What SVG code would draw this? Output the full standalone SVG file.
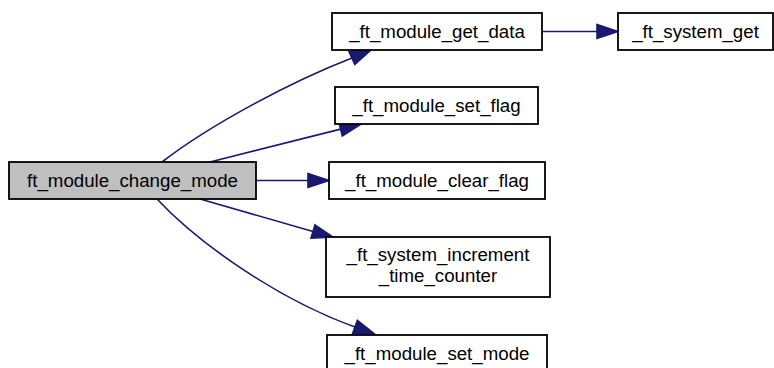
<svg xmlns="http://www.w3.org/2000/svg" width="774" height="368" viewBox="0 0 774 368">
<style>
.box{fill:#ffffff;stroke:#000000;stroke-width:1.8}
.main{fill:#bfbfbf;stroke:#000000;stroke-width:1.8}
.lbl{font-family:"Liberation Sans",Arial,sans-serif;font-size:18.7px;fill:#000000;text-anchor:middle}
.edge{fill:none;stroke:#191970;stroke-width:1.6}
.head{fill:#191970;stroke:#191970;stroke-width:1.6}
</style>
<rect width="774" height="368" fill="#ffffff"/>
<g id="connectors">
<path class="edge" d="M162,162 C210,125 290,82 352,58"/>
<polygon class="head" points="349,51.6 371,50 354.8,64.4"/>
<path class="edge" d="M210,162 L340.6,129.1"/>
<polygon class="head" points="338.9,122.3 361,124 342.3,135.9"/>
<path class="edge" d="M256,180.5 L308,180.5"/>
<polygon class="head" points="308,173.5 329,180.5 308,187.5"/>
<path class="edge" d="M200,199 L313,231.5"/>
<polygon class="head" points="315,224.8 333,237 311,238.2"/>
<path class="edge" d="M157,199 C200,245 280,300 355,327"/>
<polygon class="head" points="357.4,320.4 374.7,334.1 352.6,333.6"/>
<path class="edge" d="M542,31.5 L597,31.5"/>
<polygon class="head" points="597,24.5 618,31.5 597,38.5"/>
</g>
<g id="node_main">
<rect class="main" x="9" y="162" width="247" height="37"/>
<text class="lbl" x="132.5" y="187">ft_module_change_mode</text>
</g>
<g id="node_get_data">
<rect class="box" x="332" y="13" width="210" height="37"/>
<text class="lbl" x="437" y="38">_ft_module_get_data</text>
</g>
<g id="node_system_get">
<rect class="box" x="618" y="13" width="155" height="37"/>
<text class="lbl" x="695.5" y="38">_ft_system_get</text>
</g>
<g id="node_set_flag">
<rect class="box" x="335" y="87" width="203" height="37"/>
<text class="lbl" x="436.5" y="112">_ft_module_set_flag</text>
</g>
<g id="node_clear_flag">
<rect class="box" x="329" y="162" width="216" height="37"/>
<text class="lbl" x="437" y="187">_ft_module_clear_flag</text>
</g>
<g id="node_increment">
<rect class="box" x="326" y="237" width="224" height="60"/>
<text class="lbl" x="438" y="261">_ft_system_increment</text>
<text class="lbl" x="438" y="282">_time_counter</text>
</g>
<g id="node_set_mode">
<rect class="box" x="327" y="335" width="220" height="37"/>
<text class="lbl" x="437" y="360">_ft_module_set_mode</text>
</g>
</svg>
